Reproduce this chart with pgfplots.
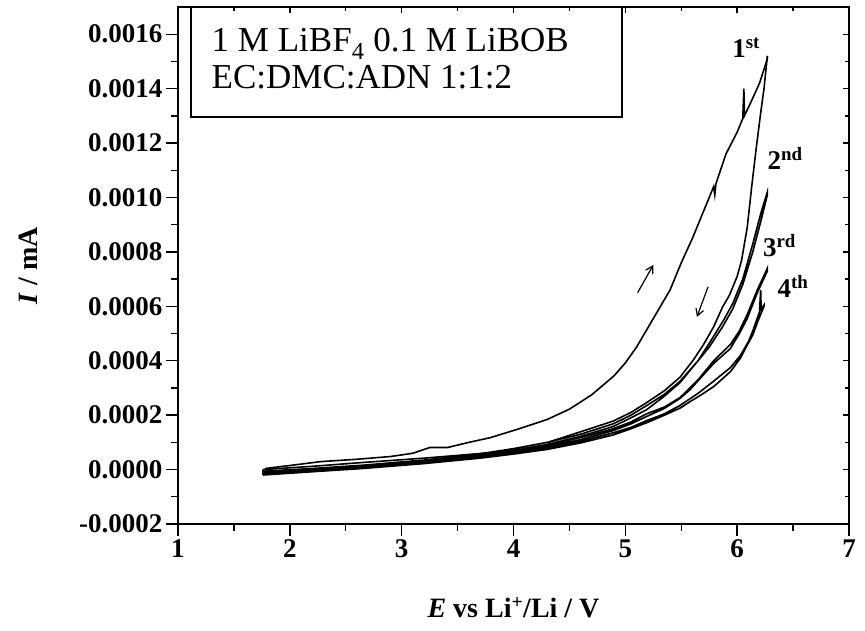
\documentclass[border=0pt]{standalone}
\usepackage{fontspec}
\setmainfont{Liberation Serif}
\usepackage{pgfplots}
\pgfplotsset{compat=1.18}
\usetikzlibrary{arrows.meta}
\begin{document}
\begin{tikzpicture}
\begin{axis}[
  scale only axis, width=671pt, height=517pt,
  xmin=1, xmax=7, ymin=-0.0002, ymax=0.0017,
  clip=false,
  xtick={1,2,3,4,5,6,7}, xticklabels={1,2,3,4,5,6,7},
  minor x tick num=1,
  ytick={-0.0002,0,0.0002,0.0004,0.0006,0.0008,0.001,0.0012,0.0014,0.0016},
  yticklabels={-0.0002,0.0000,0.0002,0.0004,0.0006,0.0008,0.0010,0.0012,0.0014,0.0016},
  scaled y ticks=false,
  minor y tick num=1,
  tick align=outside, xtick pos=left, ytick pos=left,
  major tick length=12pt, minor tick length=7pt,
  every tick/.style={black, line width=1.4pt},
  axis line style={line width=1.4pt},
  tick label style={font=\fontsize{27}{30}\selectfont\bfseries},
  xlabel={\textit{E} vs Li\textsuperscript{+}/Li / V},
  xlabel style={font=\fontsize{28}{32}\selectfont\bfseries, at={(axis description cs:0.5,-0.18)}, anchor=base},
  ylabel={\textit{I} / mA},
  ylabel style={font=\fontsize{28}{32}\selectfont\bfseries, at={(axis description cs:-0.2235,0.5)}, anchor=center},
]
% cycle 1 forward
\addplot[black, line width=1.6pt] coordinates {(1.78,0.000004) (2.0,0.000015) (2.27,0.000029) (2.6,0.000038) (2.90,0.000048) (3.1,0.00006) (3.25,0.000081) (3.41,0.000081) (3.6,0.0001) (3.79,0.000117) (4.05,0.00015) (4.30,0.000184) (4.5,0.000222) (4.7,0.000275) (4.9,0.000345) (5.0,0.000392) (5.1,0.00045) (5.2,0.00052) (5.3,0.00059) (5.4,0.00066) (5.5,0.00076) (5.6,0.00085) (5.7,0.00095) (5.79,0.00104) (5.80,0.00101) (5.81,0.00105) (5.9,0.00116) (6.0,0.00124) (6.05,0.00129) (6.06,0.00140) (6.065,0.0013) (6.1,0.00133) (6.2,0.00142) (6.27,0.00151) (6.27,0.00152)};
% cycle 1 reverse
\addplot[black, line width=1.6pt] coordinates {(6.27,0.00152) (6.24,0.0014) (6.21,0.00131) (6.17,0.00118) (6.13,0.00104) (6.09,0.00089) (6.04,0.00077) (6.00,0.00071) (5.93,0.00064) (5.87,0.000598) (5.79,0.000525) (5.70,0.00046) (5.61,0.000404) (5.49,0.00034) (5.35,0.00029) (5.19,0.000246) (5.05,0.00021) (4.89,0.000178) (4.6,0.000139) (4.33,0.000103) (4.30,0.000084) (4.0,0.00007) (3.79,0.000062) (3.2,0.000042) (2.65,0.000026) (2.2,0.000012) (1.76,0.0)};
% cycle 2
\addplot[black, line width=1.6pt] coordinates {(1.76,0.0) (1.76,-0.000006) (2.2,0.000004) (2.65,0.000016) (3.2,0.000035) (3.7,0.000058) (4.0,0.000077) (4.3,0.0001) (4.6,0.00013) (4.89,0.000168) (5.05,0.0002) (5.19,0.000235) (5.35,0.000277) (5.49,0.000325) (5.65,0.0004) (5.79,0.00049) (5.88,0.00055) (5.96,0.00061) (6.05,0.0007) (6.14,0.00083) (6.21,0.00094) (6.27,0.00102)
 (6.27,0.00101) (6.21,0.00091) (6.14,0.0008) (6.05,0.00068) (5.96,0.00059) (5.87,0.000525) (5.75,0.00045) (5.61,0.00038) (5.49,0.00032) (5.35,0.00027) (5.19,0.00022) (5.05,0.00019) (4.89,0.000158) (4.6,0.000122) (4.3,0.000092) (4.0,0.00007) (3.7,0.000052) (3.2,0.00003) (2.65,0.000012) (2.2,0.0) (1.76,-0.00001)};
% cycle 3
\addplot[black, line width=1.6pt] coordinates {(1.76,-0.00001) (1.76,-0.000012) (2.2,0.0) (2.65,0.00001) (3.2,0.00003) (3.7,0.00005) (4.0,0.000068) (4.3,0.00009) (4.6,0.000118) (4.89,0.00015) (5.05,0.000175) (5.19,0.000205) (5.35,0.00023) (5.49,0.000265) (5.65,0.00033) (5.79,0.0004) (5.94,0.00046) (6.02,0.00051) (6.09,0.00057) (6.18,0.00066) (6.27,0.00074)
 (6.27,0.00073) (6.18,0.00065) (6.09,0.000555) (6.02,0.0005) (5.94,0.000445) (5.79,0.00039) (5.68,0.00034) (5.58,0.000294) (5.49,0.000262) (5.35,0.000225) (5.19,0.000195) (5.05,0.000168) (4.89,0.000143) (4.6,0.00011) (4.3,0.000084) (4.0,0.000064) (3.7,0.000048) (3.2,0.000026) (2.65,0.000008) (2.2,-0.000004) (1.76,-0.000014)};
% cycle 4
\addplot[black, line width=1.6pt] coordinates {(1.76,-0.000014) (1.76,-0.000016) (2.2,-0.000004) (2.65,0.000006) (3.2,0.000026) (3.7,0.000046) (4.0,0.000062) (4.3,0.00008) (4.6,0.000105) (4.89,0.000135) (5.05,0.000155) (5.19,0.00018) (5.35,0.000205) (5.49,0.000236) (5.65,0.00028) (5.79,0.000325) (5.94,0.000375) (6.03,0.00042) (6.1,0.00047) (6.14,0.00051) (6.2,0.00058) (6.21,0.00066) (6.215,0.00059) (6.24,0.000605)
 (6.24,0.0006) (6.19,0.00055) (6.14,0.000495) (6.08,0.00045) (6.03,0.00041) (5.94,0.00036) (5.79,0.000305) (5.68,0.000275) (5.58,0.00025) (5.49,0.000226) (5.35,0.0002) (5.19,0.000172) (5.05,0.00015) (4.89,0.000127) (4.6,0.000098) (4.3,0.000074) (4.0,0.000057) (3.7,0.000042) (3.2,0.000022) (2.65,0.000004) (2.2,-0.000008) (1.76,-0.00002)};
% text box
\draw[line width=1.4pt] (axis cs:1.116,0.0017) rectangle (axis cs:4.97,0.001296);
\node[anchor=base west, inner sep=0pt, font=\fontsize{35}{40}\selectfont] at (axis cs:1.30,0.001536) {1 M LiBF\textsubscript{4} 0.1 M LiBOB};
\node[anchor=base west, inner sep=0pt, font=\fontsize{35}{40}\selectfont] at (axis cs:1.30,0.001400) {EC:DMC:ADN 1:1:2};
% cycle labels
\node[anchor=base west, inner sep=0pt, font=\fontsize{27}{30}\selectfont\bfseries] at (axis cs:5.955,0.001516) {1\textsuperscript{st}};
\node[anchor=base west, inner sep=0pt, font=\fontsize{27}{30}\selectfont\bfseries] at (axis cs:6.27,0.001101) {2\textsuperscript{nd}};
\node[anchor=base west, inner sep=0pt, font=\fontsize{27}{30}\selectfont\bfseries] at (axis cs:6.23,0.000782) {3\textsuperscript{rd}};
\node[anchor=base west, inner sep=0pt, font=\fontsize{27}{30}\selectfont\bfseries] at (axis cs:6.36,0.000631) {4\textsuperscript{th}};
% arrows
\draw[-{Straight Barb[length=7pt,width=8pt]}, line width=1.2pt] (axis cs:5.11,0.00065) -- (axis cs:5.25,0.000752);
\draw[-{Straight Barb[length=7pt,width=8pt]}, line width=1.2pt] (axis cs:5.74,0.000672) -- (axis cs:5.64,0.000561);
\end{axis}
\begin{axis}[
  scale only axis, width=671pt, height=517pt,
  xmin=1, xmax=7, ymin=-0.0002, ymax=0.0017,
  xtick={1,2,3,4,5,6,7}, minor x tick num=1,
  ytick={-0.0002,0,0.0002,0.0004,0.0006,0.0008,0.001,0.0012,0.0014,0.0016},
  minor y tick num=1, scaled y ticks=false,
  xticklabels={}, yticklabels={},
  tick align=inside, xtick pos=right, ytick pos=right,
  major tick length=6pt, minor tick length=4pt,
  every tick/.style={black, line width=1.4pt},
  axis line style={line width=1.4pt},
]
\end{axis}
\pgfresetboundingbox
\path (-178pt,-106pt) rectangle (687pt,524pt);
\end{tikzpicture}
\end{document}
